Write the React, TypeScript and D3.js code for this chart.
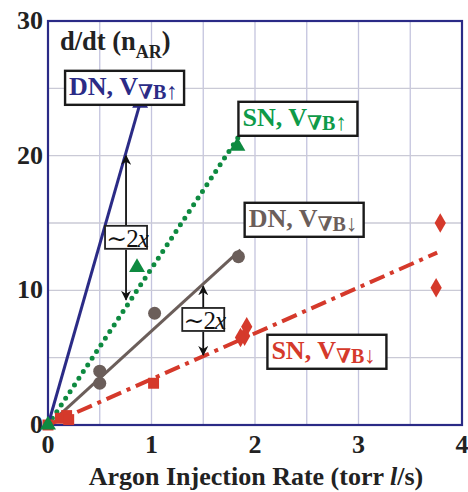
import React from "react";
import * as d3 from "d3";

// series: [x (torr l/s), d/dt n_AR]
const dnUpPoints = [[0, 0], [0.89, 23.9]];
const dnUpFit = [[0, 0], [0.89, 23.9]];
const snUpPoints = [[0, 0], [0.86, 11.7], [1.83, 20.7]];
const snUpFit = [[0, 0], [1.85, 21.5]];
const dnDownPoints = [[0.5, 4.0], [0.5, 3.1], [1.03, 8.3], [1.84, 12.5]];
const dnDownFit = [[0.12, 0.8], [1.86, 13.0]];
const snDownSquares = [[0, 0], [0.12, 0.5], [0.18, 0.7], [0.2, 0.4], [1.02, 3.1]];
const snDownDiamonds = [[1.92, 7.3], [1.9, 6.6], [1.86, 6.5], [3.75, 10.2], [3.79, 15.0]];
const snDownFit = [[0, 0], [3.76, 12.8]];

const xTicks = [0, 1, 2, 3, 4];
const yTicks = [0, 10, 20, 30];
const xGrid = [0.5, 1, 1.5, 2, 2.5, 3, 3.5];
const yGrid = [5, 10, 15, 20, 25];

// label boxes, left/top in data units
const labels = [
  { name: "DN, V", arrow: "↑", color: "#2b2b86", x: 0.165, y: 26.3 },
  { name: "SN, V", arrow: "↑", color: "#0e9a48", x: 1.84, y: 24.0 },
  { name: "DN, V", arrow: "↓", color: "#6b5e5a", x: 1.9, y: 16.5 },
  { name: "SN, V", arrow: "↓", color: "#d5392b", x: 2.12, y: 6.7 },
];

// "~2x" ratio arrows: x, top, bottom (data units)
const ratios = [
  { x: 0.754, top: 20.0, bottom: 9.3, box: 13.9 },
  { x: 1.5, top: 10.3, bottom: 5.2, box: 7.8 },
];

const W = 468;
const H = 492;
const x = d3.scaleLinear().domain([0, 4]).range([48, 462]);
const y = d3.scaleLinear().domain([0, 30]).range([425, 21]);
const line = d3.line<number[]>().x((d) => x(d[0])).y((d) => y(d[1]));

const FONT = "'Liberation Serif', 'DejaVu Serif', 'Times New Roman', serif";

const tri = d3.symbol().type(d3.symbolTriangle).size(110)()!;
const sq = d3.symbol().type(d3.symbolSquare).size(120)()!;
const dia = d3.symbol().type(d3.symbolDiamond).size(110)()!;

export default function App() {
  return (
    <svg width={W} height={H} style={{ position: "absolute", left: 0, top: 0, background: "#fff", fontFamily: FONT }}>
      <defs>
        <marker id="ah" viewBox="0 0 10 10" refX="9" refY="5" markerWidth="10" markerHeight="10" orient="auto-start-reverse" markerUnits="userSpaceOnUse">
          <path d="M0,0 L10,5 L0,10 L3,5 z" fill="#111" />
        </marker>
      </defs>
      {/* grid */}
      {xGrid.map((v) => (
        <line key={"gx" + v} x1={x(v)} x2={x(v)} y1={y(0)} y2={y(30)} stroke="#c4c4de" strokeWidth={1.3} />
      ))}
      {yGrid.map((v) => (
        <line key={"gy" + v} x1={x(0)} x2={x(4)} y1={y(v)} y2={y(v)} stroke="#cacad6" strokeWidth={1.3} />
      ))}
      <rect x={x(0)} y={y(30)} width={x(4) - x(0)} height={y(0) - y(30)} fill="none" stroke="#2a2a86" strokeWidth={2.2} />

      {/* ticks */}
      {xTicks.map((v) => (
        <text key={"tx" + v} x={x(v)} y={453} textAnchor="middle" fontSize={26} fontWeight="bold" fill="#222">{v}</text>
      ))}
      {yTicks.map((v) => (
        <text key={"ty" + v} x={43} y={y(v) + 8} textAnchor="end" fontSize={26} fontWeight="bold" fill="#222">{v}</text>
      ))}
      <text x={256} y={485} textAnchor="middle" fontSize={26} fontWeight="bold" fill="#222">
        Argon Injection Rate (torr <tspan fontStyle="italic">l</tspan>/s)
      </text>
      <text x={60} y={50} fontSize={26.5} fontWeight="bold" fill="#222">
        d/dt (n<tspan fontSize={18} dy={8}>AR</tspan><tspan dy={-8}>)</tspan>
      </text>

      {/* fits */}
      <path d={line(snDownFit)!} fill="none" stroke="#d5392b" strokeWidth={4} strokeDasharray="16 6 4 6" />
      <path d={line(dnDownFit)!} fill="none" stroke="#6b5e5a" strokeWidth={3} />
      <path d={line(snUpFit)!} fill="none" stroke="#0e8a40" strokeWidth={5} strokeLinecap="round" strokeDasharray="0 8" />
      <path d={line(dnUpFit)!} fill="none" stroke="#2b2b86" strokeWidth={3} />

      {/* markers */}
      {snDownSquares.map((d, i) => (
        <path key={"sq" + i} d={sq} transform={`translate(${x(d[0])},${y(d[1])})`} fill="#d5392b" />
      ))}
      {snDownDiamonds.map((d, i) => (
        <path key={"di" + i} d={dia} transform={`translate(${x(d[0])},${y(d[1])})`} fill="#d5392b" />
      ))}
      {dnDownPoints.map((d, i) => (
        <circle key={"ci" + i} cx={x(d[0])} cy={y(d[1])} r={6.5} fill="#6b5e5a" />
      ))}
      {snUpPoints.map((d, i) => (
        <path key={"tg" + i} d={tri} transform={`translate(${x(d[0])},${y(d[1])})`} fill="#0e8a40" />
      ))}
      {dnUpPoints.slice(1).map((d, i) => (
        <path key={"tb" + i} d={tri} transform={`translate(${x(d[0])},${y(d[1])})`} fill="#2b2b86" />
      ))}

      {/* ratio arrows */}
      {ratios.map((r, i) => {
        const cx = x(r.x);
        const by = y(r.box);
        return (
          <g key={"r" + i}>
            <line x1={cx} x2={cx} y1={by - 12} y2={y(r.top)} stroke="#111" strokeWidth={1.8} markerEnd="url(#ah)" />
            <line x1={cx} x2={cx} y1={by + 12} y2={y(r.bottom)} stroke="#111" strokeWidth={1.8} markerEnd="url(#ah)" />
            <rect x={cx - 21} y={by - 12} width={42} height={23} fill="#fff" stroke="#222" strokeWidth={1.8} />
            <text x={cx + 1} y={by + 9} textAnchor="middle" fontSize={25} fill="#111" letterSpacing={-1}>
              ∼2<tspan fontStyle="italic">x</tspan>
            </text>
          </g>
        );
      })}

      {/* label boxes */}
      {labels.map((l, i) => {
        const lx = x(l.x);
        const ly = y(l.y);
        return (
          <g key={"l" + i}>
            <rect x={lx} y={ly} width={119} height={34} fill="#fff" stroke="#1a1a1a" strokeWidth={2.4} />
            <text x={lx + 4} y={ly + 24} fontSize={26} fontWeight="bold" fill={l.color}>
              {l.name}
              <tspan fontSize={20} dy={4}>∇B</tspan>
              <tspan fontSize={23} fontWeight="normal">{l.arrow}</tspan>
            </text>
          </g>
        );
      })}
    </svg>
  );
}
